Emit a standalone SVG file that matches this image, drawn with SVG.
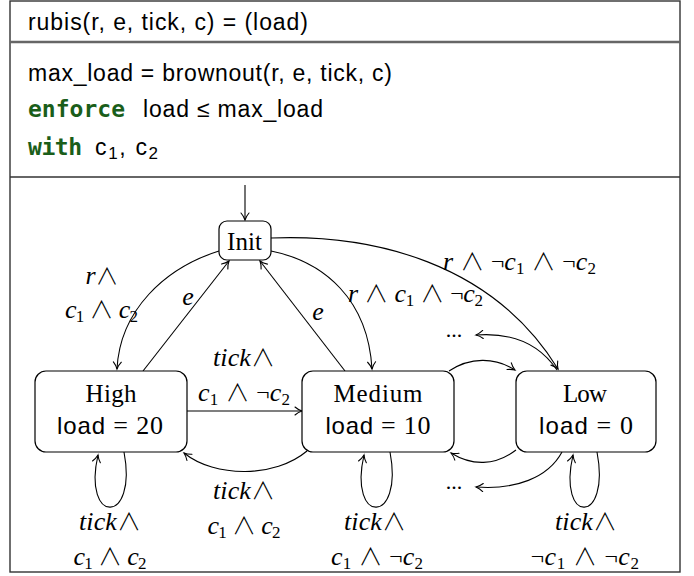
<svg xmlns="http://www.w3.org/2000/svg" width="694" height="576" viewBox="0 0 694 576">
<style>
.sans{font-family:"Liberation Sans","DejaVu Sans",sans-serif;font-size:23px;fill:#000}
.mono{font-family:"DejaVu Sans Mono","Liberation Mono",monospace;font-weight:bold;font-size:23px;fill:#1a5e1a}
.rm{font-family:"Liberation Serif","DejaVu Serif",serif;font-size:25px;fill:#000}
.m{font-family:"Liberation Serif","DejaVu Serif",serif;font-size:26px;fill:#000}
.i{font-style:italic}
.s{font-size:17px;font-style:normal}
.w{font-family:"Noto Sans CJK JP","DejaVu Serif",serif;font-weight:300;font-style:normal;font-size:24px}
.ls{font-family:"Liberation Sans","DejaVu Sans",sans-serif;font-size:24px}
.node{fill:#fff;stroke:#000;stroke-width:1.2}
.edge{fill:none;stroke:#000;stroke-width:1.1;marker-end:url(#arr)}
</style>
<defs>
<marker id="arr" markerUnits="userSpaceOnUse" viewBox="-8 -5 9 10" refX="0" refY="0" markerWidth="9" markerHeight="10" orient="auto" overflow="visible">
<path d="M -7 -4 C -4.5 -1.8 -1.8 -0.6 0 0 C -1.8 0.6 -4.5 1.8 -7 4" fill="none" stroke="#000" stroke-width="1.1" stroke-linecap="round"/>
</marker>
</defs>
<g id="frame">
<rect x="10" y="1" width="670" height="571" fill="#fff" stroke="#333" stroke-width="1.4"/>
<line x1="10" y1="42" x2="680" y2="42" stroke="#666" stroke-width="2.6"/>
<line x1="10" y1="177" x2="680" y2="177" stroke="#333" stroke-width="1.6"/>
</g>
<g id="header">
<text class="sans" x="28" y="30" textLength="280">rubis(r, e, tick, c) = (load)</text>
<text class="sans" x="28" y="81" textLength="364">max_load = brownout(r, e, tick, c)</text>
<text class="mono" x="28" y="117" textLength="97">enforce</text>
<text class="sans" x="143" y="117" textLength="180">load ≤ max_load</text>
<text class="mono" x="28" y="155" textLength="54">with</text>
<text class="sans" x="95" y="155" textLength="63">c<tspan class="s" dy="4">1</tspan><tspan dy="-4">, c</tspan><tspan class="s" dy="4">2</tspan></text>
</g>
<g id="connectors">
<path class="edge" d="M 245 185 L 245 220"/>
<path class="edge" d="M 219 251 C 165 268 120 310 117 369"/>
<path class="edge" d="M 143 371 L 229 261"/>
<path class="edge" d="M 345 371 L 260 261"/>
<path class="edge" d="M 271 251 C 325 262 368 300 372 369"/>
<path class="edge" d="M 271 238 C 372 234 492 262 558 369"/>
<path class="edge" d="M 557 370 C 540 345 515 332 476 335"/>
<path class="edge" d="M 449 371 C 470 357 495 357 515 370"/>
<path class="edge" d="M 516 450 C 495 466 472 466 451 453"/>
<path class="edge" d="M 562 452 C 548 478 515 490 476 487"/>
<path class="edge" d="M 187 411 L 302 411"/>
<path class="edge" d="M 307 451 C 275 478 215 478 184 453"/>
<path class="edge" d="M 124 452 C 138 525 82 525 98 455"/>
<path class="edge" d="M 390 452 C 404 525 348 525 364 455"/>
<path class="edge" d="M 597 452 C 611 525 557 525 573 455"/>
</g>
<g id="labels">
<text class="m" x="102" y="284" text-anchor="middle"><tspan class="i">r</tspan><tspan class="w" style="font-size:23px">∧</tspan></text>
<text class="m" x="101.5" y="318" text-anchor="middle" textLength="73"><tspan class="i">c</tspan><tspan class="s" dy="4">1</tspan><tspan dy="-4"> </tspan><tspan class="w">∧</tspan> <tspan class="i">c</tspan><tspan class="s" dy="4">2</tspan></text>
<text class="m i" x="188" y="305" text-anchor="middle">e</text>
<text class="m i" x="318" y="320" text-anchor="middle">e</text>
<text class="m" x="415.5" y="302" text-anchor="middle" textLength="135"><tspan class="i">r</tspan> <tspan class="w">∧</tspan> <tspan class="i">c</tspan><tspan class="s" dy="4">1</tspan><tspan dy="-4"> </tspan><tspan class="w">∧</tspan> <tspan class="w">¬</tspan><tspan class="i">c</tspan><tspan class="s" dy="4">2</tspan></text>
<text class="m" x="519.5" y="270" text-anchor="middle" textLength="153"><tspan class="i">r</tspan> <tspan class="w">∧</tspan> <tspan class="w">¬</tspan><tspan class="i">c</tspan><tspan class="s" dy="4">1</tspan><tspan dy="-4"> </tspan><tspan class="w">∧</tspan> <tspan class="w">¬</tspan><tspan class="i">c</tspan><tspan class="s" dy="4">2</tspan></text>
<text class="m" x="454" y="337" text-anchor="middle" style="font-size:22px">...</text>
<text class="m" x="454" y="489" text-anchor="middle" style="font-size:22px">...</text>
<text class="m" x="244" y="366" text-anchor="middle" textLength="62"><tspan class="i">tick</tspan><tspan class="w">∧</tspan></text>
<text class="m" x="244" y="401" text-anchor="middle" textLength="92"><tspan class="i">c</tspan><tspan class="s" dy="4">1</tspan><tspan dy="-4"> </tspan><tspan class="w">∧</tspan> <tspan class="w">¬</tspan><tspan class="i">c</tspan><tspan class="s" dy="4">2</tspan></text>
<text class="m" x="244" y="499" text-anchor="middle" textLength="62"><tspan class="i">tick</tspan><tspan class="w">∧</tspan></text>
<text class="m" x="244" y="534" text-anchor="middle" textLength="73"><tspan class="i">c</tspan><tspan class="s" dy="4">1</tspan><tspan dy="-4"> </tspan><tspan class="w">∧</tspan> <tspan class="i">c</tspan><tspan class="s" dy="4">2</tspan></text>
<text class="m" x="110" y="530" text-anchor="middle" textLength="62"><tspan class="i">tick</tspan><tspan class="w">∧</tspan></text>
<text class="m" x="110" y="565" text-anchor="middle" textLength="73"><tspan class="i">c</tspan><tspan class="s" dy="4">1</tspan><tspan dy="-4"> </tspan><tspan class="w">∧</tspan> <tspan class="i">c</tspan><tspan class="s" dy="4">2</tspan></text>
<text class="m" x="375" y="530" text-anchor="middle" textLength="62"><tspan class="i">tick</tspan><tspan class="w">∧</tspan></text>
<text class="m" x="377" y="565" text-anchor="middle" textLength="92"><tspan class="i">c</tspan><tspan class="s" dy="4">1</tspan><tspan dy="-4"> </tspan><tspan class="w">∧</tspan> <tspan class="w">¬</tspan><tspan class="i">c</tspan><tspan class="s" dy="4">2</tspan></text>
<text class="m" x="586" y="530" text-anchor="middle" textLength="62"><tspan class="i">tick</tspan><tspan class="w">∧</tspan></text>
<text class="m" x="585" y="565" text-anchor="middle" textLength="108"><tspan class="w">¬</tspan><tspan class="i">c</tspan><tspan class="s" dy="4">1</tspan><tspan dy="-4"> </tspan><tspan class="w">∧</tspan> <tspan class="w">¬</tspan><tspan class="i">c</tspan><tspan class="s" dy="4">2</tspan></text>
</g>
<g id="node-init">
<rect class="node" x="219" y="221" width="52" height="39" rx="8"/>
<text class="rm" x="244.5" y="250" text-anchor="middle" textLength="35">Init</text>
</g>
<g id="node-high">
<rect class="node" x="35" y="371" width="152" height="81" rx="11"/>
<text class="rm" x="111" y="402" text-anchor="middle" textLength="51">High</text>
<text class="rm" x="110" y="434" text-anchor="middle" textLength="106" style="font-size:26px"><tspan class="ls">load</tspan> = 20</text>
</g>
<g id="node-medium">
<rect class="node" x="302" y="371" width="152" height="81" rx="11"/>
<text class="rm" x="378" y="402" text-anchor="middle" textLength="89">Medium</text>
<text class="rm" x="378" y="434" text-anchor="middle" textLength="105" style="font-size:26px"><tspan class="ls">load</tspan> = 10</text>
</g>
<g id="node-low">
<rect class="node" x="516" y="371" width="140" height="81" rx="11"/>
<text class="rm" x="585" y="402" text-anchor="middle" textLength="44">Low</text>
<text class="rm" x="586" y="434" text-anchor="middle" textLength="94" style="font-size:26px"><tspan class="ls">load</tspan> = 0</text>
</g>
</svg>
